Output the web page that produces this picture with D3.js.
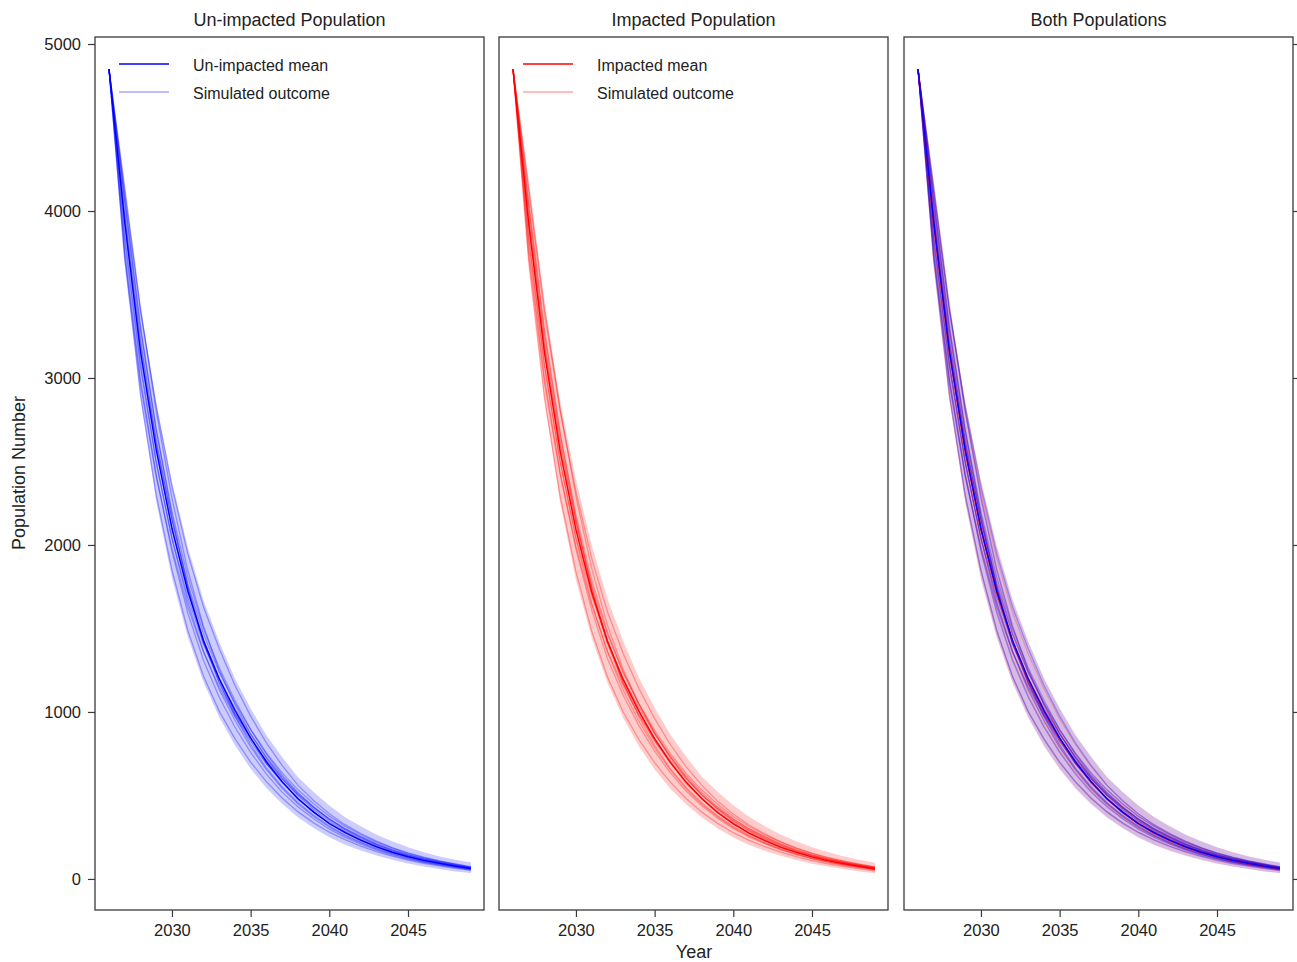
<!DOCTYPE html>
<html>
<head>
<meta charset="utf-8">
<script src="https://cdn.jsdelivr.net/npm/d3@7"></script>
<style>
  body { margin: 0; background: #fff; }
  svg { font-family: "Liberation Sans", Arial, sans-serif; }
</style>
</head>
<body>
<svg id="chart" width="1297" height="962"></svg>
<script>
// ---- data ----
const years = [2026,2027,2028,2029,2030,2031,2032,2033,2034,2035,2036,2037,2038,2039,2040,2041,2042,2043,2044,2045,2046,2047,2048,2049];
const xTicks = [2030, 2035, 2040, 2045];
const yTicks = [0, 1000, 2000, 3000, 4000, 5000];
const panelTitles = ['Un-impacted Population', 'Impacted Population', 'Both Populations'];

const blueMean = [4850,3930,3160,2570,2100,1725,1430,1200,1010,845,702,582,482,400,332,277,232,192,160,133,111,93,77,62];
const blueLow  = [4850,3720,2880,2260,1800,1450,1180,970,800,660,545,450,370,305,250,205,170,140,115,92,75,60,45,35];
const blueHigh = [4850,4130,3420,2850,2380,1990,1670,1420,1200,1020,860,730,610,520,440,370,315,265,225,190,160,135,115,98];
const blueSims = [
  [4850,4060,3290,2690,2200,1810,1500,1265,1070,895,748,622,518,432,358,298,250,207,173,144,120,100,83,67],
  [4850,3760,2990,2420,1960,1595,1310,1090,910,758,628,520,432,360,298,249,208,172,143,119,99,83,69,55],
  [4850,4110,3400,2830,2350,1950,1630,1380,1160,975,815,680,562,470,390,325,272,226,188,156,130,108,90,73],
  [4850,3710,2900,2300,1850,1490,1215,1005,840,700,583,485,403,336,280,235,197,163,136,113,94,78,64,51],
  [4850,3950,3140,2590,2090,1740,1410,1200,990,845,690,585,475,405,328,280,229,195,158,135,109,94,76,63],
  [4850,4000,3230,2630,2150,1750,1430,1180,975,805,665,552,458,382,317,264,221,183,152,126,105,88,73,59],
  [4850,3820,3060,2490,2040,1690,1410,1195,1020,865,730,612,512,428,356,296,248,205,170,141,118,98,81,66],
  [4850,4070,3310,2690,2180,1750,1420,1175,990,840,712,600,506,428,360,303,256,212,177,147,123,103,85,69],
  [4850,3860,3090,2500,2040,1660,1365,1135,950,790,655,543,450,374,310,258,216,178,149,123,103,86,71,57],
  [4850,4140,3420,2800,2280,1850,1515,1250,1045,870,725,602,500,416,345,288,241,200,166,138,115,96,80,64],
  [4850,3720,2960,2410,1980,1630,1360,1150,975,825,690,578,482,402,335,279,234,194,161,134,112,94,78,63],
  [4850,3960,3200,2610,2150,1770,1470,1240,1055,895,755,635,535,450,376,316,266,221,184,153,127,106,88,71]
];

const redMean = [4850,3920,3150,2560,2090,1720,1425,1195,1005,840,698,580,480,398,330,275,230,191,159,132,110,92,76,61];
const redLow  = [4850,3700,2870,2250,1790,1445,1175,965,795,655,540,447,368,303,248,204,168,139,114,91,74,59,45,34];
const redHigh = [4850,4140,3430,2860,2390,2000,1680,1425,1205,1025,865,733,612,522,442,372,316,266,226,190,161,136,115,97];
const redSims = [
  [4850,4030,3260,2660,2180,1790,1480,1240,1045,875,730,608,505,421,349,291,244,202,168,140,116,97,80,65],
  [4850,3780,3000,2430,1975,1610,1320,1100,918,765,635,527,438,364,302,252,211,175,146,121,101,84,70,56],
  [4850,4120,3390,2800,2320,1920,1600,1350,1140,960,805,672,560,466,388,323,270,224,186,155,129,108,89,72],
  [4850,3690,2880,2290,1840,1485,1210,1000,835,697,580,482,400,333,277,231,193,160,133,110,91,76,62,49],
  [4850,3940,3170,2550,2110,1705,1430,1175,1005,825,700,570,482,395,334,272,233,188,161,130,111,90,77,60],
  [4850,3990,3210,2620,2140,1745,1425,1175,970,800,660,548,455,379,315,262,219,182,151,125,104,87,72,58],
  [4850,3830,3070,2500,2045,1700,1415,1200,1025,870,735,618,518,433,360,300,252,208,173,143,120,100,82,67],
  [4850,4050,3290,2670,2160,1740,1410,1170,985,838,708,598,504,425,357,300,253,210,175,145,121,101,84,68],
  [4850,3850,3080,2495,2035,1655,1360,1130,945,786,652,540,448,372,308,257,215,177,148,122,102,85,70,56],
  [4850,4150,3430,2810,2290,1860,1520,1255,1048,873,727,604,502,418,347,289,242,201,167,139,116,97,80,65],
  [4850,3730,2970,2420,1990,1640,1365,1155,980,828,693,580,484,404,336,280,235,195,162,135,113,94,78,62],
  [4850,3950,3190,2600,2140,1760,1465,1235,1050,890,750,632,532,448,374,314,264,220,183,152,126,105,87,70]
];

// ---- layout ----
const svg = d3.select('#chart');
const plotTop = 37, plotBottom = 910;
const panels = [[95, 484], [499, 888], [904, 1293]];
const y = d3.scaleLinear().domain([-186, 5042]).range([plotBottom, plotTop]);
const frameColor = '#3a3a3a';
const textColor = '#222';
const font = '"Liberation Sans", Arial, sans-serif';

const blueSet = { color: '#0000ff', mean: blueMean, low: blueLow, high: blueHigh, sims: blueSims };
const redSet = { color: '#ff0000', mean: redMean, low: redLow, high: redHigh, sims: redSims };

function drawPanel(i, sets, meanOrder, legend) {
    const [x0, x1] = panels[i];
    const x = d3.scaleLinear().domain([2025.11, 2049.83]).range([x0, x1]);
    const g = svg.append('g');
    const both = sets.length > 1;

    const clipId = 'clip' + i;
    g.append('clipPath').attr('id', clipId)
        .append('rect').attr('x', x0).attr('y', plotTop).attr('width', x1 - x0).attr('height', plotBottom - plotTop);
    const plot = g.append('g').attr('clip-path', 'url(#' + clipId + ')');

    const line = d3.line().x((d, k) => x(years[k])).y(d => y(d));
    const area = d3.area().x((d, k) => x(years[k]))
        .y0(d => y(d[0])).y1(d => y(d[1]));

    sets.forEach(s => {
        plot.append('path')
            .datum(s.low.map((v, k) => [v, s.high[k]]))
            .attr('d', area)
            .attr('fill', s.color)
            .attr('fill-opacity', both ? (s === redSet ? 0.12 : 0.16) : 0.2);
    });
    sets.forEach(s => {
        s.sims.forEach(sim => {
            plot.append('path').datum(sim).attr('d', line)
                .attr('fill', 'none').attr('stroke', s.color)
                .attr('stroke-opacity', both ? (s === redSet ? 0.22 : 0.3) : 0.32)
                .attr('stroke-width', 1.3);
        });
    });
    meanOrder.forEach(s => {
        plot.append('path').datum(s.mean).attr('d', line)
            .attr('fill', 'none').attr('stroke', s.color).attr('stroke-width', 1.4);
    });

    // frame
    g.append('rect').attr('x', x0).attr('y', plotTop).attr('width', x1 - x0).attr('height', plotBottom - plotTop)
        .attr('fill', 'none').attr('stroke', frameColor).attr('stroke-width', 1.3);

    // x axis
    const xa = g.append('g').attr('transform', 'translate(0,' + plotBottom + ')')
        .call(d3.axisBottom(x).tickValues(xTicks).tickFormat(d3.format('d')).tickSize(7).tickPadding(7));
    xa.select('.domain').remove();
    xa.selectAll('line').attr('stroke', frameColor).attr('stroke-width', 1.2);
    xa.selectAll('text').attr('font-size', 16.5).attr('fill', textColor);

    // y axis
    if (i === 0) {
        const ya = g.append('g').attr('transform', 'translate(' + x0 + ',0)')
            .call(d3.axisLeft(y).tickValues(yTicks).tickFormat(d3.format('d')).tickSize(7).tickPadding(7));
        ya.select('.domain').remove();
        ya.selectAll('line').attr('stroke', frameColor).attr('stroke-width', 1.2);
        ya.selectAll('text').attr('font-size', 16.5).attr('fill', textColor);
    }
    if (i === 2) {
        const ya = g.append('g').attr('transform', 'translate(' + x1 + ',0)')
            .call(d3.axisRight(y).tickValues(yTicks).tickSize(7).tickFormat(''));
        ya.select('.domain').remove();
        ya.selectAll('line').attr('stroke', frameColor).attr('stroke-width', 1.2);
    }
    g.selectAll('.tick text').attr('font-family', font);

    // title
    g.append('text').attr('x', (x0 + x1) / 2).attr('y', 26)
        .attr('text-anchor', 'middle').attr('font-size', 18).attr('fill', textColor)
        .text(panelTitles[i]);

    // legend
    if (legend) {
        const lx = x0 + 24;
        g.append('line').attr('x1', lx).attr('x2', lx + 50).attr('y1', 64).attr('y2', 64)
            .attr('stroke', legend.color).attr('stroke-width', 1.3);
        g.append('line').attr('x1', lx).attr('x2', lx + 50).attr('y1', 92).attr('y2', 92)
            .attr('stroke', legend.color).attr('stroke-opacity', 0.35).attr('stroke-width', 1.3);
        g.append('text').attr('x', lx + 74).attr('y', 71).attr('font-size', 16).attr('fill', textColor)
            .text(legend.label);
        g.append('text').attr('x', lx + 74).attr('y', 99).attr('font-size', 16).attr('fill', textColor)
            .text('Simulated outcome');
    }
}

drawPanel(0, [blueSet], [blueSet], { color: '#0000ff', label: 'Un-impacted mean' });
drawPanel(1, [redSet], [redSet], { color: '#ff0000', label: 'Impacted mean' });
drawPanel(2, [redSet, blueSet], [redSet, blueSet], null);

// shared axis labels
svg.append('text').attr('x', 694).attr('y', 958).attr('text-anchor', 'middle')
    .attr('font-size', 18).attr('fill', textColor).text('Year');
svg.append('text').attr('transform', 'translate(25,473) rotate(-90)').attr('text-anchor', 'middle')
    .attr('font-size', 18).attr('fill', textColor).text('Population Number');
</script>
</body>
</html>
